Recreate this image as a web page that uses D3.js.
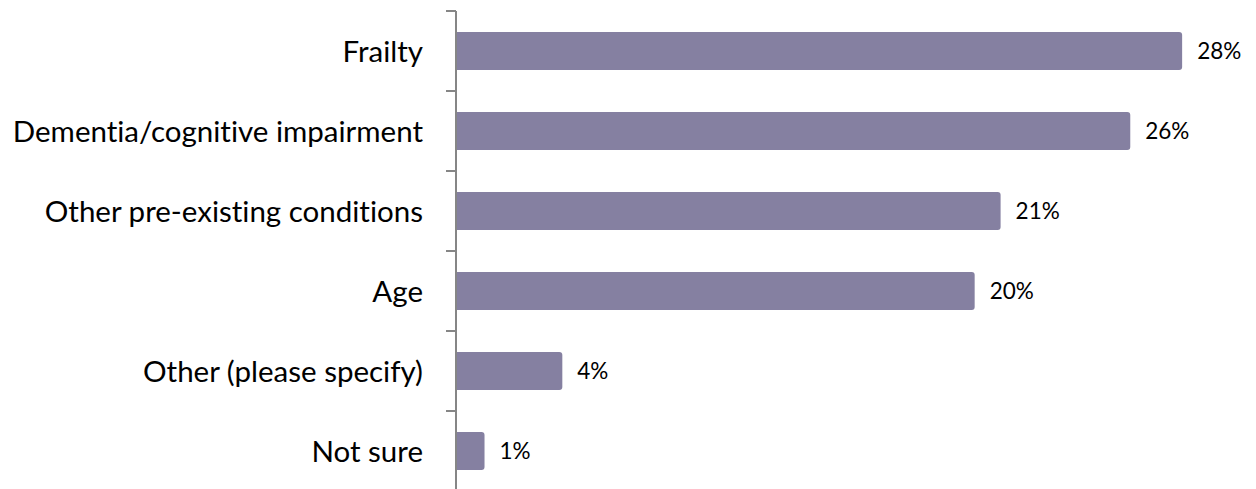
<!DOCTYPE html>
<html>
<head>
<meta charset="utf-8">
<script src="https://cdn.jsdelivr.net/npm/d3@7"></script>
<style>
  body { margin: 0; background: #fff; }
  svg { display: block; }
  text { font-variant-ligatures: none; }
</style>
</head>
<body>
<div id="chart"></div>
<script>
// Chart data
const categories = ["Frailty", "Dementia/cognitive impairment", "Other pre-existing conditions", "Age", "Other (please specify)", "Not sure"];
const values = [28, 26, 21, 20, 4.1, 1.1];
const valueLabels = ["28%", "26%", "21%", "20%", "4%", "1%"];

const width = 1256;
const height = 489;
const margin = { top: 11, right: 22, bottom: -2, left: 456 };

const svg = d3.select("#chart")
    .append("svg")
    .attr("width", width)
    .attr("height", height);

// Scales
const x = d3.scaleLinear()
    .domain([0, 30])
    .range([margin.left, width - margin.right]);

const y = d3.scaleBand()
    .domain(categories)
    .range([margin.top, height - margin.bottom])
    .paddingInner(0.525)
    .paddingOuter(0.2625);

const data = categories.map((c, i) => ({ cat: c, value: values[i], label: valueLabels[i] }));

// Bars with slightly rounded right ends
const r = 3;
svg.append("g")
    .selectAll("path")
    .data(data)
    .enter()
    .append("path")
    .attr("fill", "#8580a1")
    .attr("d", (d) => {
        const x0 = x(0), x1 = x(d.value), y0 = y(d.cat), h = y.bandwidth();
        return `M${x0},${y0}H${x1 - r}Q${x1},${y0} ${x1},${y0 + r}V${y0 + h - r}Q${x1},${y0 + h} ${x1 - r},${y0 + h}H${x0}Z`;
    });

// Value labels
svg.append("g")
    .selectAll("text")
    .data(data)
    .enter()
    .append("text")
    .attr("x", (d) => x(d.value) + 15)
    .attr("y", (d) => y(d.cat) + y.bandwidth() / 2)
    .attr("dy", "0.36em")
    .style("font-family", "Lato, 'Open Sans', sans-serif")
    .style("font-size", "22.5px")
    .style("fill", "#000")
    .text((d) => d.label);

// Y axis: band boundary ticks
const step = y.step();
const tickYs = d3.range(categories.length + 1).map((i) => margin.top + i * step);
const axis = svg.append("g");
axis.append("line")
    .attr("x1", x(0)).attr("x2", x(0))
    .attr("y1", margin.top).attr("y2", height)
    .attr("stroke", "#868686")
    .attr("stroke-width", 2);
axis.selectAll("line.tick")
    .data(tickYs)
    .enter()
    .append("line")
    .attr("class", "tick")
    .attr("x1", x(0) - 10).attr("x2", x(0))
    .attr("y1", (d) => d).attr("y2", (d) => d)
    .attr("stroke", "#868686")
    .attr("stroke-width", 2);

// Category labels
axis.selectAll("text")
    .data(categories)
    .enter()
    .append("text")
    .attr("x", x(0) - 33)
    .attr("y", (d) => y(d) + y.bandwidth() / 2)
    .attr("dy", "0.36em")
    .attr("text-anchor", "end")
    .style("font-family", "Lato, 'Open Sans', sans-serif")
    .style("font-size", "29.5px")
    .style("fill", "#000")
    .text((d) => d);
</script>
</body>
</html>
